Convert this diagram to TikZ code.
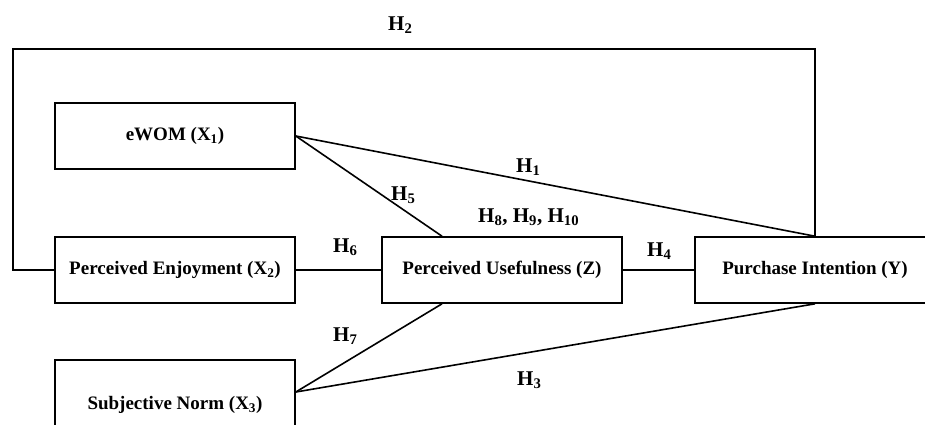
\documentclass[tikz,border=0pt]{standalone}
\usepackage{fontspec}
\setmainfont{Liberation Serif}
\begin{document}
\begin{tikzpicture}[x=1pt,y=-1pt,
  box/.style={draw, line width=1.6pt, fill=white, minimum width=240pt, minimum height=66pt, inner sep=0pt, font=\fontsize{19}{22}\selectfont\bfseries},
  conn/.style={line width=1.6pt, line join=miter},
  hlab/.style={font=\fontsize{21}{24}\selectfont\bfseries, inner sep=0pt, anchor=base west}]
\useasboundingbox (0,0) rectangle (925,424);
\node[box] (ewom) at (175,136) {eWOM (X\textsubscript{1})};
\node[box] (pe) at (175,270) {Perceived Enjoyment (X\textsubscript{2})};
\node[box, minimum height=90pt] (sn) at (175,405) {Subjective Norm (X\textsubscript{3})};
\node[box] (pu) at (502,270) {Perceived Usefulness (Z)};
\node[box] (pi) at (815,270) {Purchase Intention (Y)};
\coordinate (loopL) at (13,49);
\coordinate (snR) at ([yshift=13pt]sn.east);
\draw[conn] (pe.west) -| (loopL) -| (pi.north);
\draw[conn] (ewom.east) -- (pi.north);
\draw[conn] (ewom.east) -- ([xshift=-60pt]pu.north);
\draw[conn] (pe.east) -- (pu.west);
\draw[conn] (snR) -- ([xshift=-60pt]pu.south);
\draw[conn] (snR) -- (pi.south);
\draw[conn] (pu.east) -- (pi.west);
\node[hlab] (h2) at (388,30) {H\textsubscript{2}};
\node[hlab] (h1) at (516,172) {H\textsubscript{1}};
\node[hlab] (h5) at (391,200) {H\textsubscript{5}};
\node[hlab] (h8) at (478,222) {H\textsubscript{8}, H\textsubscript{9}, H\textsubscript{10}};
\node[hlab] (h6) at (333,252) {H\textsubscript{6}};
\node[hlab] (h4) at (647,256) {H\textsubscript{4}};
\node[hlab] (h7) at (333,341) {H\textsubscript{7}};
\node[hlab] (h3) at (517,385) {H\textsubscript{3}};
\end{tikzpicture}
\end{document}
